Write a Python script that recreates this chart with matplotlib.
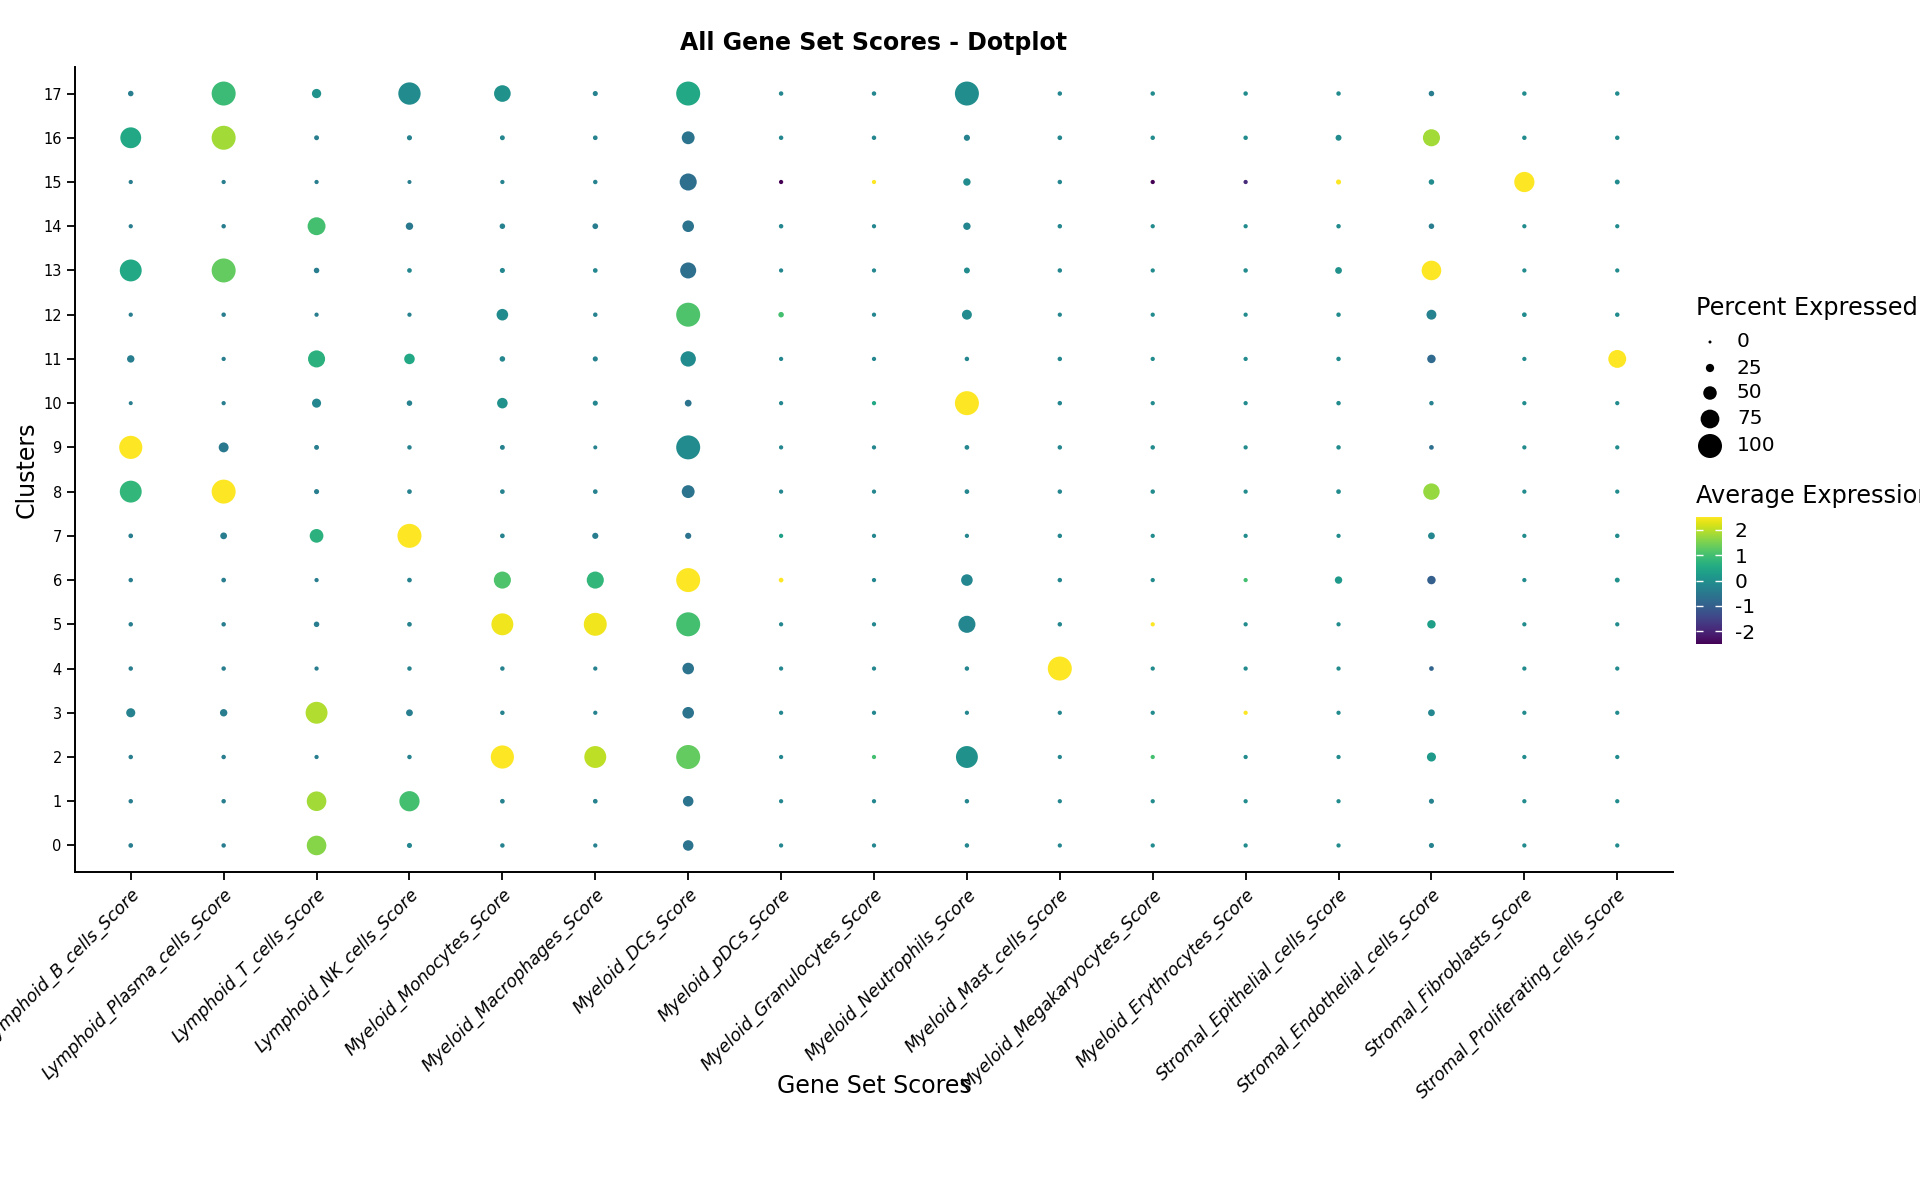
import numpy as np
import matplotlib
matplotlib.use("Agg")
import matplotlib.pyplot as plt

plt.rcParams['axes.unicode_minus'] = False

gene_sets = ["Lymphoid_B_cells_Score", "Lymphoid_Plasma_cells_Score", "Lymphoid_T_cells_Score",
             "Lymphoid_NK_cells_Score", "Myeloid_Monocytes_Score", "Myeloid_Macrophages_Score",
             "Myeloid_DCs_Score", "Myeloid_pDCs_Score", "Myeloid_Granulocytes_Score",
             "Myeloid_Neutrophils_Score", "Myeloid_Mast_cells_Score", "Myeloid_Megakaryocytes_Score",
             "Myeloid_Erythrocytes_Score", "Stromal_Epithelial_cells_Score", "Stromal_Endothelial_cells_Score",
             "Stromal_Fibroblasts_Score", "Stromal_Proliferating_cells_Score"]
clusters = list(range(18))

# percent expressed, one row per cluster (0..17), one column per gene set
pct = [
    [8, 7, 79, 10, 7, 6, 36, 6, 6, 7, 6, 6, 6, 6, 10, 6, 6],
    [7, 7, 79, 82, 8, 8, 36, 6, 6, 7, 6, 6, 6, 6, 10, 6, 6],
    [7, 7, 6, 7, 96, 90, 100, 6, 6, 90, 6, 6, 6, 6, 29, 6, 6],
    [29, 21, 90, 18, 7, 6, 41, 6, 6, 6, 6, 6, 6, 6, 18, 6, 6],
    [7, 7, 6, 7, 7, 6, 41, 6, 6, 7, 100, 6, 6, 6, 8, 6, 6],
    [7, 7, 12, 8, 90, 95, 100, 6, 6, 67, 7, 6, 6, 6, 26, 6, 6],
    [7, 8, 6, 8, 67, 67, 100, 8, 6, 41, 7, 6, 6, 21, 26, 6, 9],
    [8, 18, 51, 100, 8, 15, 15, 6, 6, 6, 7, 6, 6, 6, 18, 6, 7],
    [90, 100, 10, 8, 8, 8, 47, 6, 6, 8, 7, 7, 6, 8, 64, 6, 6],
    [96, 33, 9, 7, 9, 5, 100, 6, 6, 8, 7, 7, 6, 7, 8, 6, 6],
    [5, 6, 29, 12, 36, 10, 18, 6, 6, 100, 7, 6, 6, 7, 7, 6, 6],
    [21, 6, 67, 36, 12, 10, 59, 6, 6, 7, 7, 6, 6, 7, 26, 6, 71],
    [6, 7, 6, 6, 41, 7, 100, 12, 6, 33, 6, 6, 6, 7, 33, 8, 7],
    [90, 100, 12, 8, 10, 8, 62, 6, 6, 14, 7, 6, 7, 18, 79, 6, 6],
    [6, 7, 71, 21, 12, 13, 41, 7, 6, 21, 7, 6, 6, 7, 12, 6, 6],
    [6, 6, 6, 5, 6, 7, 67, 6, 6, 21, 7, 6, 6, 10, 12, 82, 9],
    [85, 100, 9, 10, 9, 8, 47, 7, 7, 15, 8, 7, 7, 14, 67, 7, 7],
    [12, 100, 30, 92, 65, 10, 100, 7, 7, 100, 7, 7, 7, 7, 12, 7, 7],
]

# scaled average expression
avg = [
    [-0.4, -0.4, 1.6, -0.2, -0.3, -0.3, -0.6, -0.2, -0.2, -0.2, -0.2, -0.1, -0.1, -0.1, -0.3, -0.1, -0.1],
    [-0.4, -0.4, 1.8, 1.0, -0.3, -0.3, -0.6, -0.2, -0.2, -0.2, -0.2, -0.1, -0.1, -0.1, -0.3, -0.1, -0.1],
    [-0.4, -0.4, -0.4, -0.3, 2.5, 2.0, 1.3, -0.2, 1.0, 0.0, -0.2, 1.0, -0.1, -0.1, 0.2, -0.1, -0.1],
    [-0.3, -0.4, 1.9, -0.4, -0.3, -0.3, -0.6, -0.2, -0.2, -0.2, -0.2, -0.1, 2.5, -0.1, -0.2, -0.1, -0.1],
    [-0.4, -0.4, -0.4, -0.3, -0.3, -0.3, -0.6, -0.2, -0.2, -0.2, 2.5, -0.1, -0.1, -0.1, -0.9, -0.1, -0.1],
    [-0.4, -0.4, -0.4, -0.3, 2.4, 2.4, 1.0, -0.2, -0.2, -0.2, -0.2, 2.5, -0.1, -0.1, 0.3, -0.1, -0.1],
    [-0.4, -0.4, -0.4, -0.3, 1.1, 0.8, 2.5, 2.5, -0.2, -0.2, -0.2, -0.1, 1.0, 0.2, -1.0, -0.1, 0.0],
    [-0.4, -0.4, 0.7, 2.5, -0.3, -0.4, -0.6, 0.3, -0.2, -0.2, -0.2, -0.1, -0.1, -0.1, -0.2, -0.1, -0.1],
    [0.8, 2.5, -0.4, -0.3, -0.3, -0.3, -0.6, -0.2, -0.2, -0.2, -0.2, -0.1, -0.1, -0.1, 1.7, -0.1, -0.1],
    [2.5, -0.5, -0.4, -0.3, -0.3, -0.3, -0.1, -0.2, -0.2, -0.2, -0.2, -0.1, -0.1, -0.1, -0.7, -0.1, -0.1],
    [-0.4, -0.4, -0.2, -0.3, 0.0, -0.2, -0.6, -0.2, 0.5, 2.5, -0.2, -0.1, -0.1, -0.1, -0.3, -0.1, -0.1],
    [-0.4, -0.4, 0.7, 0.5, -0.2, -0.3, -0.1, -0.2, -0.2, -0.2, -0.2, -0.1, -0.1, -0.1, -0.8, -0.1, 2.5],
    [-0.4, -0.4, -0.4, -0.3, -0.1, -0.3, 1.1, 1.0, -0.2, -0.1, -0.2, -0.1, -0.1, -0.1, -0.3, -0.1, -0.1],
    [0.5, 1.3, -0.4, -0.2, -0.2, -0.2, -0.7, -0.2, -0.2, -0.1, -0.2, -0.1, -0.1, 0.0, 2.5, -0.1, -0.1],
    [-0.4, -0.4, 1.0, -0.5, -0.3, -0.4, -0.6, -0.2, -0.2, -0.2, -0.2, -0.1, -0.1, -0.1, -0.4, -0.1, -0.1],
    [-0.4, -0.4, -0.4, -0.4, -0.3, -0.3, -0.7, -2.5, 2.5, -0.1, -0.2, -2.5, -1.9, 2.5, -0.1, 2.5, -0.1],
    [0.5, 1.8, -0.4, -0.3, -0.2, -0.3, -0.6, -0.2, -0.2, -0.3, -0.2, -0.1, -0.1, -0.1, 1.8, -0.1, -0.1],
    [-0.4, 0.9, 0.0, -0.1, 0.0, -0.3, 0.5, -0.2, -0.2, -0.05, -0.2, -0.1, -0.1, -0.1, -0.4, -0.1, -0.1],
]

size_breaks = [0, 25, 50, 75, 100]
color_ticks = [-2, -1, 0, 1, 2]

W, H, DPI = 1920, 1200, 100


def dot_size(p):
    # diameter in pixels -> marker area in points^2
    d = 3.0 + 0.21 * np.asarray(p, dtype=float)
    return (d * 72.0 / DPI) ** 2


def fx(px):
    return px / W


def fy(py):
    return 1 - py / H


fig = plt.figure(figsize=(W / DPI, H / DPI), dpi=DPI)
ax = fig.add_axes([fx(75), fy(872), fx(1673) - fx(75), fy(67) - fy(872)])

pct_a = np.array(pct)
avg_a = np.array(avg)
xx, yy = np.meshgrid(np.arange(len(gene_sets)), clusters)
sc = ax.scatter(xx.ravel(), yy.ravel(), s=dot_size(pct_a.ravel()), c=avg_a.ravel(),
                cmap='viridis', vmin=-2.5, vmax=2.5, linewidths=0)

ax.set_xlim(-0.6, len(gene_sets) - 0.4)
ax.set_ylim(-0.6, len(clusters) - 0.4)
ax.set_xticks(range(len(gene_sets)))
ax.set_xticklabels(gene_sets, rotation=45, ha='right', va='top', rotation_mode='anchor',
                   fontsize=12.5, style='italic')
ax.set_yticks(clusters)
ax.set_yticklabels([str(c) for c in clusters], fontsize=10.5)
ax.tick_params(length=5.5, width=1.3, pad=4)
for s in ['top', 'right']:
    ax.spines[s].set_visible(False)
for s in ['left', 'bottom']:
    ax.spines[s].set_linewidth(1.4)

fig.text(fx(874), fy(43), "All Gene Set Scores - Dotplot", ha='center', va='center',
         fontsize=17, fontweight='bold')
fig.text(fx(874), fy(1086), "Gene Set Scores", ha='center', va='center', fontsize=17)
fig.text(fx(27), fy(470), "Clusters", ha='center', va='center', rotation=90, fontsize=17)

# size legend
lax = fig.add_axes([0, 0, 1, 1], zorder=-1)
lax.set_xlim(0, W)
lax.set_ylim(H, 0)
lax.axis('off')
fig.text(fx(1696), fy(308), "Percent Expressed", ha='left', va='center', fontsize=17.3)
leg_y = [342, 368, 393, 419, 446]
lax.scatter([1710] * len(size_breaks), leg_y, s=dot_size(size_breaks), c='black', linewidths=0)
for b, y in zip(size_breaks, leg_y):
    fig.text(fx(1737), fy(y), str(b), ha='left', va='center', fontsize=14.5)

# colour legend
fig.text(fx(1696), fy(496), "Average Expression", ha='left', va='center', fontsize=17.3)
cax = fig.add_axes([fx(1696), fy(644), fx(26), fy(517) - fy(644)])
cb = fig.colorbar(sc, cax=cax, ticks=color_ticks)
cb.outline.set_visible(False)
cax.set_yticklabels([str(t) for t in color_ticks], fontsize=14.5)
cax.tick_params(axis='y', direction='in', left=True, right=True, color='white',
                length=5, width=1, pad=9)

fig.savefig("out.png", dpi=DPI)
